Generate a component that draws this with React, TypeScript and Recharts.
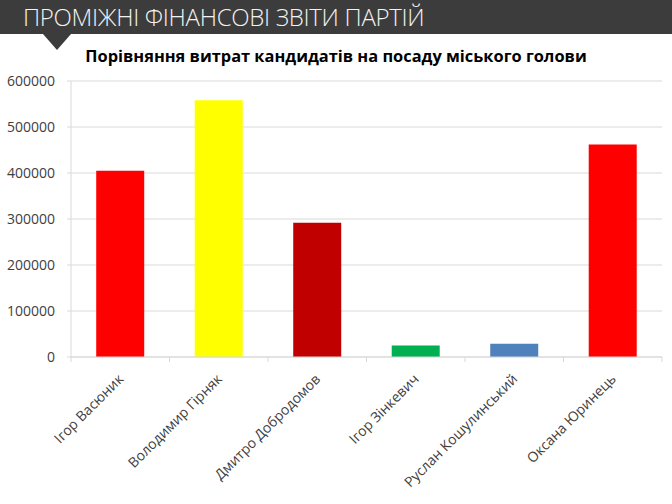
import React from 'react';
import { BarChart, Bar, XAxis, YAxis, CartesianGrid, Cell } from 'recharts';

// candidates and their reported spending
const candidates = [
    'Ігор Васюник',
    'Володимир Гірняк',
    'Дмитро Добродомов',
    'Ігор Зінкевич',
    'Руслан Кошулинський',
    'Оксана Юринець',
];
const spending = [405000, 558000, 292000, 25000, 29000, 462000];
const barColors = ['#ff0000', '#ffff00', '#c00000', '#00b050', '#4f81bd', '#ff0000'];
const yTicks = [0, 100000, 200000, 300000, 400000, 500000, 600000];

const chartData = candidates.map((name, i) => ({ name, value: spending[i] }));

const GRID = '#d9d9d9';
const TEXT = '#404040';

function CandidateTick(props: any) {
    const { x, y, payload, index } = props;
    const half = payload?.offset ?? 0;
    const last = index === candidates.length - 1;
    return (
        <g>
            <line x1={x - half} x2={x - half} y1={y} y2={y + 5} stroke={GRID} />
            {last && <line x1={x + half} x2={x + half} y1={y} y2={y + 5} stroke={GRID} />}
            <text
                transform={`translate(${x + 4},${y + 23}) rotate(-45)`}
                textAnchor="end"
                fontSize={14}
                fill={TEXT}
            >
                {payload.value}
            </text>
        </g>
    );
}

export default function App() {
    return (
        <div
            style={{
                position: 'fixed',
                left: 0,
                top: 0,
                width: 672,
                height: 504,
                background: '#fff',
                fontFamily: '"Open Sans", sans-serif',
                overflow: 'hidden',
            }}
        >
            <div
                style={{
                    position: 'absolute',
                    left: 0,
                    top: 0,
                    width: 672,
                    height: 34,
                    background: '#3c3c3c',
                    color: '#f2f2f2',
                    fontSize: 24,
                    fontWeight: 300,
                    letterSpacing: '-0.3px',
                    lineHeight: '34px',
                    paddingLeft: 23,
                    boxSizing: 'border-box',
                    whiteSpace: 'nowrap',
                }}
            >
                ПРОМІЖНІ ФІНАНСОВІ ЗВІТИ ПАРТІЙ
            </div>
            <div
                style={{
                    position: 'absolute',
                    left: 43,
                    top: 34,
                    width: 0,
                    height: 0,
                    borderLeft: '14.5px solid transparent',
                    borderRight: '14.5px solid transparent',
                    borderTop: '16px solid #3c3c3c',
                }}
            />
            <div
                style={{
                    position: 'absolute',
                    left: 0,
                    top: 46,
                    width: 672,
                    textAlign: 'center',
                    fontSize: 16.4,
                    fontWeight: 700,
                    lineHeight: '20px',
                    color: '#000',
                    whiteSpace: 'nowrap',
                }}
            >
                Порівняння витрат кандидатів на посаду міського голови
            </div>
            <div style={{ position: 'absolute', left: 0, top: 0 }}>
                <BarChart
                    width={672}
                    height={504}
                    data={chartData}
                    margin={{ top: 81, right: 10, bottom: 0, left: 0 }}
                    barCategoryGap="25.6%"
                >
                    <CartesianGrid vertical={false} stroke={GRID} />
                    <XAxis
                        dataKey="name"
                        height={147}
                        interval={0}
                        tickLine={false}
                        tickSize={0}
                        tickMargin={0}
                        axisLine={{ stroke: GRID }}
                        tick={<CandidateTick />}
                    />
                    <YAxis
                        width={71}
                        domain={[0, 600000]}
                        ticks={yTicks}
                        interval={0}
                        tickSize={4}
                        tickMargin={12}
                        tickLine={{ stroke: GRID }}
                        axisLine={{ stroke: GRID }}
                        tick={{ fontSize: 14, fill: TEXT }}
                    />
                    <Bar dataKey="value" isAnimationActive={false}>
                        {chartData.map((d, i) => (
                            <Cell key={d.name} fill={barColors[i]} />
                        ))}
                    </Bar>
                </BarChart>
            </div>
        </div>
    );
}
